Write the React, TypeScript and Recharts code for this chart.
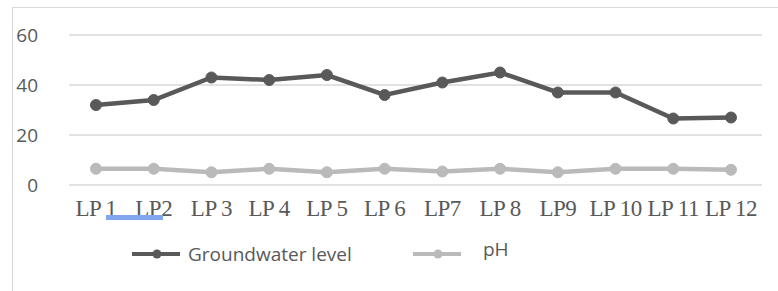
import { CartesianGrid, Line, LineChart, XAxis, YAxis } from 'recharts';

const sites = ['LP 1', 'LP2', 'LP 3', 'LP 4', 'LP 5', 'LP 6', 'LP7', 'LP 8', 'LP9', 'LP 10', 'LP 11', 'LP 12'];
const groundwater = [32, 34, 43, 42, 44, 36, 41, 45, 37, 37, 26.6, 27];
const ph = [6.5, 6.5, 5.1, 6.5, 5.1, 6.5, 5.4, 6.5, 5.1, 6.5, 6.5, 6.1];
const yTicks = [0, 20, 40, 60];

const data = sites.map((name, i) => ({ name, gw: groundwater[i], ph: ph[i] }));

const DARK = '#595959';
const LIGHT = '#bababa';

function LegendItem({ color, label, left, textLeft, textTop }: { color: string; label: string; left: number; textLeft: number; textTop: number }) {
  return (
    <>
      <svg style={{ position: 'absolute', left, top: 248 }} width={50} height={12}>
        <line x1={0} y1={6} x2={48} y2={6} stroke={color} strokeWidth={4} />
        <circle cx={25} cy={6} r={4.5} fill={color} />
      </svg>
      <div
        style={{
          position: 'absolute',
          left: textLeft,
          top: textTop,
          fontFamily: '"Open Sans", sans-serif',
          fontSize: 19,
          color: DARK,
          lineHeight: '20px',
          whiteSpace: 'nowrap',
        }}
      >
        {label}
      </div>
    </>
  );
}

export default function App() {
  return (
    <div style={{ position: 'absolute', left: 0, top: 0, width: 778, height: 291, overflow: 'hidden', background: '#fff' }}>
      <div style={{ position: 'absolute', left: 12, top: 7, width: 800, height: 320, border: '1px solid #d9d9d9' }} />
      <LineChart width={778} height={291} data={data} margin={{ top: 35, right: 16, left: 0, bottom: 76 }}>
        <CartesianGrid vertical={false} stroke="#d9d9d9" strokeWidth={1.5} />
        <XAxis
          dataKey="name"
          axisLine={false}
          tickLine={false}
          height={30}
          padding={{ left: 27, right: 31 }}
          tickMargin={9}
          interval={0}
          tick={{ fill: DARK, fontSize: 23, letterSpacing: -0.5, fontFamily: '"Liberation Serif", serif' }}
        />
        <YAxis
          width={69}
          domain={[0, 60]}
          ticks={yTicks}
          axisLine={false}
          tickLine={false}
          tickMargin={25}
          tick={{ fill: DARK, fontSize: 19, fontFamily: '"Open Sans", sans-serif' }}
        />
        <Line
          dataKey="gw"
          name="Groundwater level"
          stroke={DARK}
          strokeWidth={4.5}
          dot={{ r: 5.5, fill: DARK, stroke: DARK, strokeWidth: 1 }}
          isAnimationActive={false}
        />
        <Line
          dataKey="ph"
          name="pH"
          stroke={LIGHT}
          strokeWidth={4.5}
          dot={{ r: 5.5, fill: LIGHT, stroke: LIGHT, strokeWidth: 1 }}
          isAnimationActive={false}
        />
      </LineChart>
      <div style={{ position: 'absolute', left: 106, top: 215, width: 57, height: 5, background: '#7fa6ee' }} />
      <LegendItem color={DARK} label="Groundwater level" left={132} textLeft={188} textTop={244} />
      <LegendItem color={LIGHT} label="pH" left={413} textLeft={483} textTop={239} />
    </div>
  );
}
